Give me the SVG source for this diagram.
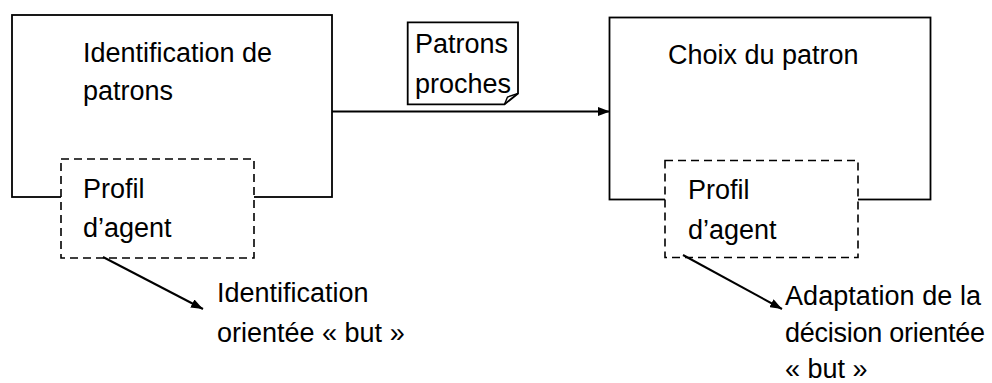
<svg xmlns="http://www.w3.org/2000/svg" width="992" height="383" viewBox="0 0 992 383">
<style>
text{font-family:"Liberation Sans",Arial,sans-serif;font-size:27px;fill:#000}
.box{fill:#fff;stroke:#000;stroke-width:1.8}
.dash{fill:#fff;stroke:#000;stroke-width:1.6;stroke-dasharray:8 5}
.line{fill:none;stroke:#000;stroke-width:2}
</style>
<defs>
<marker id="ah" markerWidth="12" markerHeight="9" refX="12" refY="4.5" orient="auto" markerUnits="userSpaceOnUse">
<path d="M0,0 L12,4.5 L0,9 Z" fill="#000"/>
</marker>
</defs>
<rect width="992" height="383" fill="#fff"/>
<g id="node-identification">
<rect class="box" x="12" y="15" width="320" height="182"/>
<text x="83" y="62">Identification de</text>
<text x="83" y="100">patrons</text>
</g>
<g id="node-profil-1">
<rect class="dash" x="61" y="159" width="193" height="99"/>
<text x="83" y="198">Profil</text>
<text x="83" y="237">d’agent</text>
</g>
<g id="node-choix">
<rect class="box" x="609.5" y="17.5" width="321" height="182"/>
<text x="668" y="64">Choix du patron</text>
</g>
<g id="node-profil-2">
<rect class="dash" x="665" y="160.5" width="193" height="97"/>
<text x="688" y="199">Profil</text>
<text x="688" y="239">d’agent</text>
</g>
<g id="node-note">
<path class="box" stroke-width="1.6" d="M407.7,22.3 H518 V93.5 L504.5,104.3 H407.7 Z"/>
<path fill="none" stroke="#000" stroke-width="1.4" d="M504.5,104.3 L507.5,97 L518,93.5"/>
<text x="415" y="53">Patrons</text>
<text x="415" y="93">proches</text>
</g>
<g id="node-label-1">
<text x="217" y="302">Identification</text>
<text x="217" y="342">orientée « but »</text>
</g>
<g id="node-label-2">
<text x="785" y="305" textLength="196">Adaptation de la</text>
<text x="785" y="342" textLength="200">décision orientée</text>
<text x="785" y="378">« but »</text>
</g>
<g id="connectors">
<line class="line" x1="332" y1="111.5" x2="610" y2="111.5" marker-end="url(#ah)"/>
<line class="line" x1="103" y1="257" x2="203" y2="309" marker-end="url(#ah)"/>
<line class="line" x1="683" y1="255" x2="782" y2="309" marker-end="url(#ah)"/>
</g>
</svg>
